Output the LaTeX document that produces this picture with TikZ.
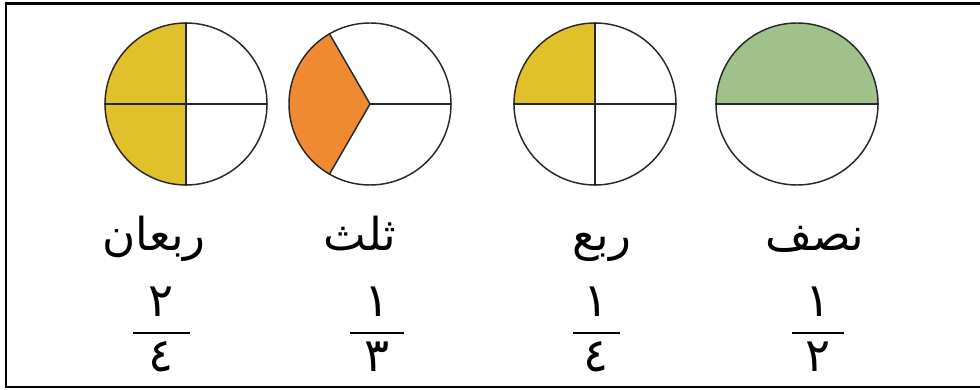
\documentclass[tikz,border=0pt]{standalone}
\usepackage{fontspec}
\newfontfamily\arabicfont[Script=Arabic]{DejaVu Sans}
\TeXXeTstate=1
\definecolor{yel}{RGB}{224,193,43}
\definecolor{org}{RGB}{240,138,50}
\definecolor{grn}{RGB}{160,194,138}
\definecolor{edge}{RGB}{40,40,40}
\begin{document}
\begin{tikzpicture}[x=0.75pt,y=0.75pt,
  disc/.style={circle,draw=edge,line width=1.1pt,minimum size=162*0.75pt,inner sep=0pt},
  part/.style={draw=edge,line width=1.1pt},
  word/.style={font=\arabicfont\fontsize{34}{38}\selectfont,anchor=base,inner sep=0pt},
  digit/.style={font=\arabicfont\fontsize{35}{38}\selectfont,inner sep=0pt},
  bar/.style={line width=1.6pt}]
\useasboundingbox (0,0) rectangle (980,389);
\fill[white] (0,0) rectangle (980,389);
% frame (right side open)
\draw[line width=2.2pt] (980,385.5) -- (6,385.5) -- (6,2) -- (980,2);
% circle centres
\coordinate (c1) at (186,285);
\coordinate (c2) at (370,285);
\coordinate (c3) at (595,285);
\coordinate (c4) at (797,285);
% circle 1: two quarters (left half) yellow
\fill[yel] (c1) ++(90:81) arc[start angle=90,end angle=270,radius=81] -- cycle;
\node[disc] (d1) at (c1) {};
\draw[part] (d1.north) -- (d1.south);
\draw[part] (d1.west) -- (d1.east);
% circle 2: thirds, left third orange
\fill[org] (c2) -- ++(120:81) arc[start angle=120,end angle=240,radius=81] -- cycle;
\node[disc] (d2) at (c2) {};
\draw[part] (d2.120) -- (c2) -- (d2.240);
\draw[part] (c2) -- (d2.east);
% circle 3: quarters, top-left yellow
\fill[yel] (c3) -- ++(90:81) arc[start angle=90,end angle=180,radius=81] -- cycle;
\node[disc] (d3) at (c3) {};
\draw[part] (d3.north) -- (d3.south);
\draw[part] (d3.west) -- (d3.east);
% circle 4: halves, top green
\fill[grn] (c4) ++(0:81) arc[start angle=0,end angle=180,radius=81] -- cycle;
\node[disc] (d4) at (c4) {};
\draw[part] (d4.west) -- (d4.east);
% words
\node[word] (w1) at (154,138) {\beginR ربعان\endR};
\node[word] (w2) at (360,138) {\beginR ثلث\endR};
\node[word] (w3) at (602,138) {\beginR ربع\endR};
\node[word] (w4) at (815,138) {\beginR نصف\endR};
% fractions
\node[digit] (n1) at (161,87) {٢};
\node[digit] (m1) at (161,32) {٤};
\coordinate (a1) at (133,56); \coordinate (b1) at (190,56);
\draw[bar] (a1) -- (b1);
\node[digit] (n2) at (377,87) {١};
\node[digit] (m2) at (377,32) {٣};
\coordinate (a2) at (350,56); \coordinate (b2) at (404,56);
\draw[bar] (a2) -- (b2);
\node[digit] (n3) at (596,87) {١};
\node[digit] (m3) at (596,32) {٤};
\coordinate (a3) at (573,56); \coordinate (b3) at (620,56);
\draw[bar] (a3) -- (b3);
\node[digit] (n4) at (818,87) {١};
\node[digit] (m4) at (818,32) {٢};
\coordinate (a4) at (792,56); \coordinate (b4) at (844,56);
\draw[bar] (a4) -- (b4);
\end{tikzpicture}
\end{document}
